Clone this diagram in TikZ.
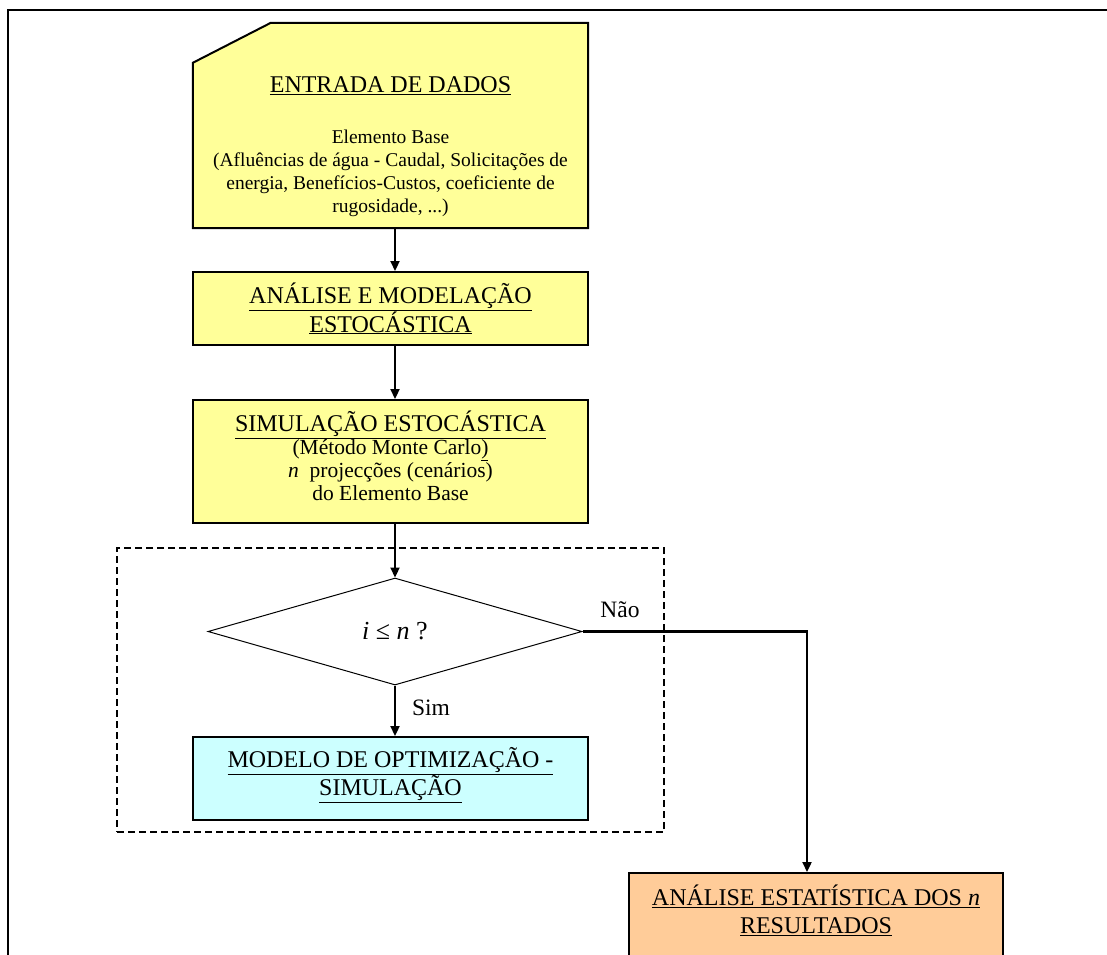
\documentclass[tikz,border=0pt]{standalone}
\usepackage{fontspec}
\setmainfont{Liberation Serif}
\usetikzlibrary{shapes.geometric,arrows.meta}
\definecolor{boxyellow}{HTML}{FFFF99}
\definecolor{boxcyan}{HTML}{CCFFFF}
\definecolor{boxorange}{HTML}{FFCC99}
\begin{document}
\begin{tikzpicture}[x=1pt,y=-1pt,
  boxline/.style={draw=black, line width=2pt},
  procbox/.style={boxline, rectangle, inner sep=0pt, align=center, minimum width=395pt},
  headfont/.style={font=\fontsize{24}{26}\selectfont},
  bodyfont/.style={font=\fontsize{21.5}{23}\selectfont},
  labelfont/.style={font=\fontsize{23.5}{25}\selectfont},
  flow/.style={line width=2.2pt, -{Triangle[length=10pt,width=9pt]}},
  groupbox/.style={draw=black, line width=1.6pt, dash pattern=on 7pt off 4pt, rectangle, inner sep=0pt}]
\useasboundingbox (0,0) rectangle (1107,954);
\clip (0,0) rectangle (1107,954);
% outer frame
\draw[line width=1.6pt] (8,1000) -- (8,10) -- (1150,10);

% dashed loop group
\node[groupbox, minimum width=547pt, minimum height=284pt] (loop) at (390.5,690) {};

% data input box (chamfered corner)
\node[minimum width=395pt, minimum height=205pt, inner sep=0pt] (entrada) at (390.5,125.5) {};
\filldraw[fill=boxyellow, boxline] (entrada.south west) -- ([yshift=-40pt]entrada.north west) -- ([xshift=78pt]entrada.north west) -- (entrada.north east) -- (entrada.south east) -- cycle;
\node[headfont] (entradaT) at (390.5,86) {\underline{ENTRADA DE DADOS}};
\node[align=center, font=\fontsize{19.5}{23}\selectfont] (entradaB) at (390.5,173) {Elemento Base\\(Afluências de água - Caudal, Solicitações de\\energia, Benefícios-Custos, coeficiente de\\rugosidade, ...)};

% analysis box
\node[procbox, fill=boxyellow, minimum height=73pt, headfont] (analise) at (390.5,308.5) {\underline{ANÁLISE E MODELAÇÃO}\\\underline{ESTOCÁSTICA}};

% simulation box
\node[procbox, fill=boxyellow, minimum height=123pt] (simul) at (390.5,461.5) {};
\node[align=center, bodyfont] (simulT) at (390.5,456) {{\fontsize{24}{23}\selectfont\underline{SIMULAÇÃO ESTOCÁSTICA}}\\(Método Monte Carlo\underline{)}\\\textit{n}\ \ projecções (cenários)\\do Elemento Base};

% decision
\node[draw=black, line width=1pt, diamond, aspect=3.5, minimum width=374pt, minimum height=107pt, inner sep=0pt, font=\fontsize{26}{28}\selectfont] (cond) at (395,631.5) {\textit{i} ≤ \textit{n} ?};

% optimisation model
\node[procbox, fill=boxcyan, minimum height=83pt] (model) at (390.5,778.5) {};
\node[align=center, font=\fontsize{24}{27}\selectfont] (modelT) at (390.5,775) {\underline{MODELO DE OPTIMIZAÇÃO -}\\\underline{SIMULAÇÃO}};

% statistical analysis (cut by page edge)
\node[boxline, fill=boxorange, rectangle, minimum width=374pt, minimum height=130pt, inner sep=0pt, anchor=north] (result) at (816,872) {};
\node[align=center, font=\fontsize{24}{28}\selectfont] (resultT) at (816,910) {\underline{ANÁLISE ESTATÍSTICA DOS \textit{n}}\\\underline{RESULTADOS}};

% connectors
\coordinate (ax) at (395,0);
\coordinate (bx) at (807,0);
\draw[flow] (entrada.south -| ax) -- (analise.north -| ax);
\draw[flow] (analise.south -| ax) -- (simul.north -| ax);
\draw[flow] (simul.south -| ax) -- (cond.north);
\draw[flow] (cond.south) -- (model.north -| ax);
\draw[flow] (cond.east) -- (cond.east -| bx) -- (result.north -| bx);

% labels
\node[labelfont] (sim) at (431,708) {Sim};
\node[labelfont] (nao) at (620,610) {Não};
\end{tikzpicture}
\end{document}
